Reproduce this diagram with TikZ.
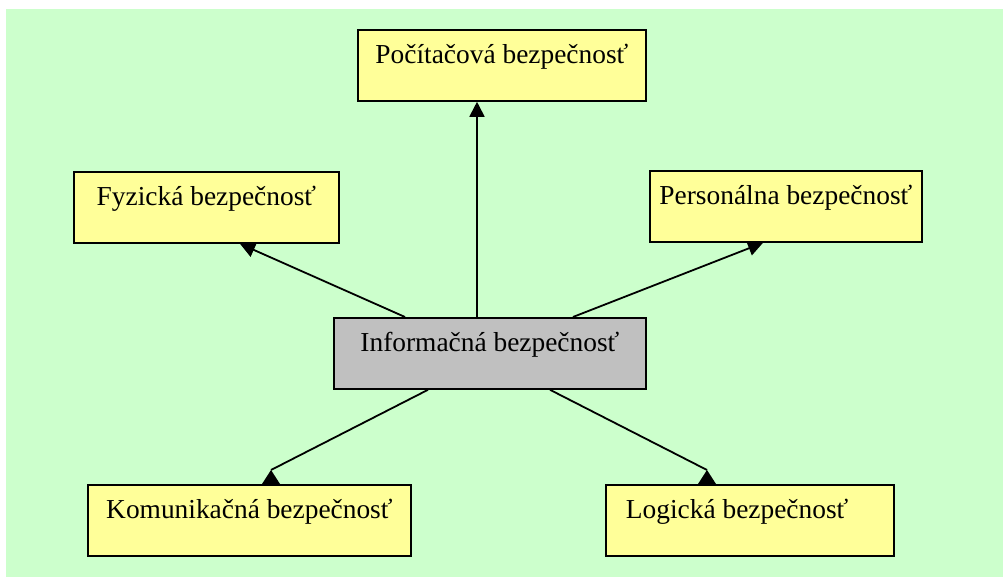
\documentclass[tikz,border=0pt]{standalone}
\usepackage{fontspec}
\setmainfont{Liberation Serif}
\usetikzlibrary{arrows.meta,calc}
\definecolor{bggreen}{HTML}{CCFFCC}
\definecolor{boxyellow}{HTML}{FFFF99}
\definecolor{boxgray}{HTML}{C0C0C0}
\begin{document}
\begin{tikzpicture}[x=1pt,y=1pt,
  box/.style={draw=black, line width=1.8pt, fill=boxyellow, anchor=north west,
    inner xsep=0pt, inner ysep=0pt, text height=34pt, text depth=37pt,
    minimum height=71pt, font=\fontsize{27.4}{32}\selectfont},
  link/.style={line width=1.8pt},
  tip/.style={-{Triangle[length=15pt,width=15pt]}},
  headtri/.style={fill=black},
]
\useasboundingbox (0,0) rectangle (1003,577);
\fill[bggreen] (6,0) rectangle (1003,568);

% security areas
\node[box, minimum width=288pt] (pc) at (357,548) {Počítačová bezpečnosť};
\node[box, minimum width=265pt] (fy) at (73,406) {Fyzická bezpečnosť};
\node[box, minimum width=272pt] (pe) at (649,407) {Personálna bezpečnosť};
\node[box, minimum width=312pt, fill=boxgray] (inf) at (333,260) {Informačná bezpečnosť};
\node[box, minimum width=323pt] (ko) at (87,93) {Komunikačná bezpečnosť};
\node[box, inner xsep=20pt, text width=248pt, align=flush left] (lo) at (605,93) {Logická bezpečnosť};

% upper connectors
\coordinate (pcA) at ($(inf.north west)+(144,0)$);
\draw[link,tip] (pcA) -- (pcA |- pc.south);
\draw[link,tip] ($(inf.north west)+(72,0)$) -- ($(fy.south west)+(167,0)$);
\draw[link,tip] ($(inf.north west)+(240,0)$) -- ($(pe.south west)+(114,0)$);

% lower connectors with upright heads resting on the boxes
\coordinate (koBase) at ($(ko.north west)+(184,0)$);
\coordinate (koApex) at ($(koBase)+(0,14)$);
\draw[link] ($(inf.south west)+(95,0)$) -- (koApex);
\fill[headtri] (koApex) -- ($(koBase)+(-9,0)$) -- ($(koBase)+(9,0)$) -- cycle;

\coordinate (loBase) at ($(lo.north west)+(102,0)$);
\coordinate (loApex) at ($(loBase)+(0,14)$);
\draw[link] ($(inf.south west)+(217,0)$) -- (loApex);
\fill[headtri] (loApex) -- ($(loBase)+(-9,0)$) -- ($(loBase)+(9,0)$) -- cycle;
\end{tikzpicture}
\end{document}
